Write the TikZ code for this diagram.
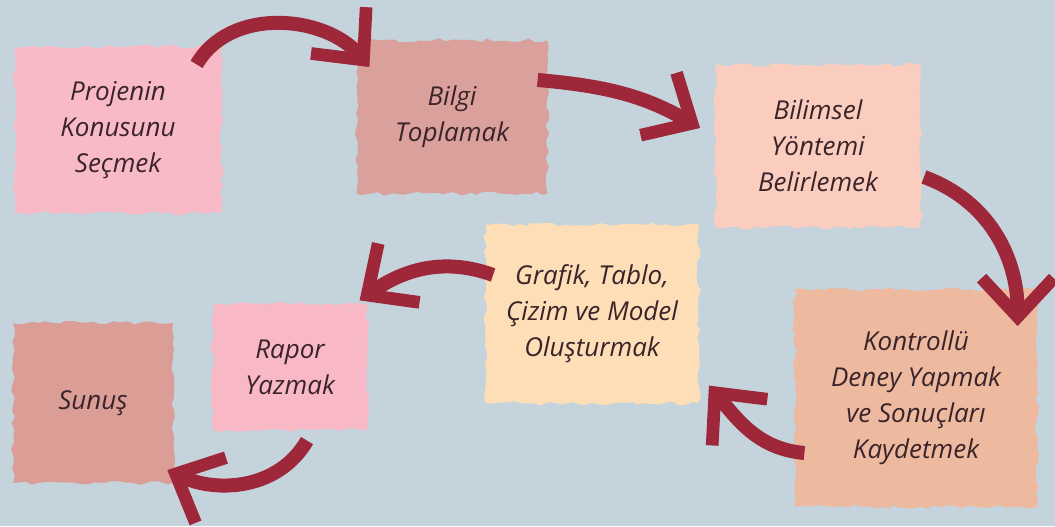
\documentclass[tikz,border=0pt]{standalone}
\usepackage{fontspec}
\setmainfont{Open Sans}
\usetikzlibrary{arrows.meta,calc,decorations.pathmorphing}
\definecolor{zemin}{RGB}{196,211,220}
\definecolor{okrenk}{RGB}{158,40,58}
\definecolor{yazi}{RGB}{58,36,42}
\definecolor{pembe}{RGB}{249,186,200}
\definecolor{gulkurusu}{RGB}{218,160,155}
\definecolor{seftali}{RGB}{250,205,190}
\definecolor{krem}{RGB}{253,222,183}
\definecolor{tencolor}{RGB}{237,186,160}
\definecolor{pembeiki}{RGB}{248,184,198}
\definecolor{gulkoyu}{RGB}{218,158,150}
\pgfmathsetseed{7}

\begin{document}
\begin{tikzpicture}[x=.75pt,y=.75pt]

        \path[use as bounding box,fill=zemin] (0,0) rectangle (1055,526);

        \begin{scope}[every node/.style={rectangle,align=center,text=yazi,
            font=\fontsize{19.5pt}{27pt}\selectfont\itshape,
            decorate,decoration={random steps,segment length=5pt,amplitude=1.5pt}}]
          \node[fill=pembe,minimum width=155pt,minimum height=125pt]     (konu)   at (118,396) {Projenin\\Konusunu\\Seçmek};
          \node[fill=gulkurusu,minimum width=143pt,minimum height=115pt] (bilgi)  at (452,409) {Bilgi\\Toplamak};
          \node[fill=seftali,minimum width=154pt,minimum height=122pt]   (yontem) at (818,380) {Bilimsel\\Yöntemi\\Belirlemek};
          \node[fill=krem,minimum width=160pt,minimum height=134pt]      (grafik) at (592,212) {Grafik, Tablo,\\Çizim ve Model\\Oluşturmak};
          \node[fill=tencolor,minimum width=182pt,minimum height=163pt]  (deney)  at (916,128) {Kontrollü\\Deney Yapmak\\ve Sonuçları\\Kaydetmek};
          \node[fill=pembeiki,minimum width=116pt,minimum height=95pt]   (rapor)  at (290,159) {Rapor\\Yazmak};
          \node[fill=gulkoyu,minimum width=120pt,minimum height=120pt]   (sunus)  at (93,123)  {Sunuş};
        \end{scope}

        \begin{scope}[every edge/.style={draw=okrenk,line width=10.5pt,
            -{Straight Barb[length=29pt,width=54pt,line width=9.5pt]}}]
          \path ($(konu.north east)+(-25,-18)$) edge[out=60,in=130]  ($(bilgi.north west)+(13,-27)$);
          \path ($(bilgi.east)+(-10,37)$)        edge[out=-5,in=150]  ($(yontem.west)+(-15,18)$);
          \path ($(yontem.east)+(3,-31)$)        edge[out=-20,in=90]  ($(deney.north east)+(-20,-37)$);
          \path ($(deney.west)+(10,-55)$)        edge[out=175,in=-50] ($(grafik.south east)+(10,18)$);
          \path ($(grafik.west)+(8,39)$)         edge[out=160,in=35]  ($(rapor.north east)+(-8,3)$);
          \path ($(rapor.south)+(17,-10)$)       edge[out=240,in=-25] ($(sunus.east)+(-6,-67)$);
        \end{scope}

      \end{tikzpicture}
\end{document}
